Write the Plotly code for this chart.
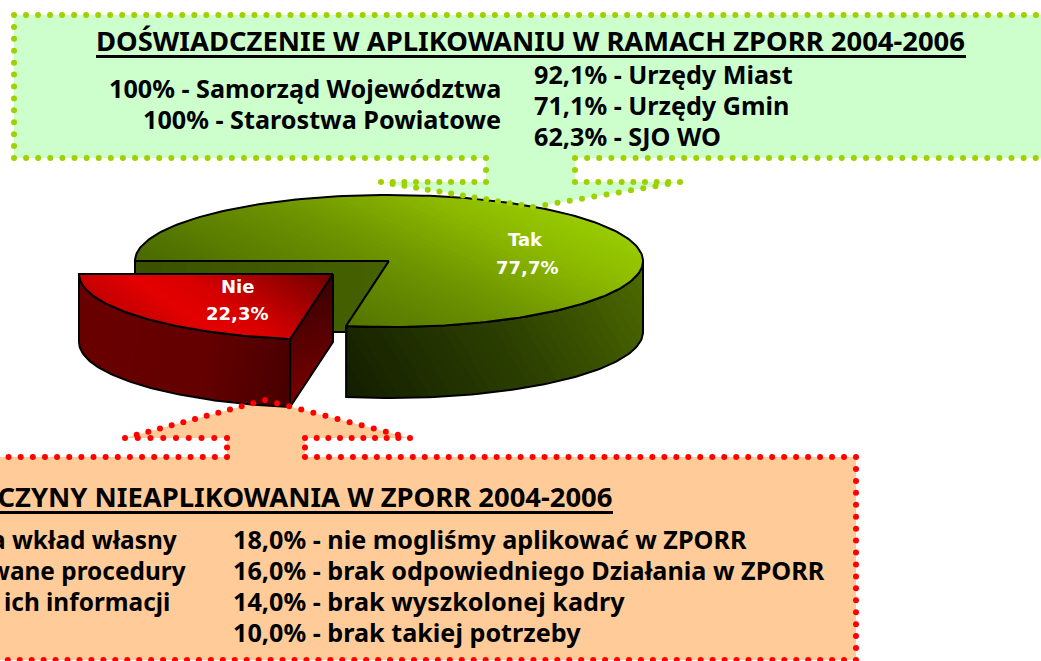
import math
import plotly.graph_objects as go

# ---- data ----
slice_labels = ["Tak", "Nie"]
slice_values = [77.7, 22.3]
slice_texts = ["77,7%", "22,3%"]

title_top = "DOŚWIADCZENIE W APLIKOWANIU W RAMACH ZPORR 2004-2006"
top_left_lines = ["100% - Samorząd Województwa", "100% - Starostwa Powiatowe"]
top_right_lines = ["92,1% - Urzędy Miast", "71,1% - Urzędy Gmin", "62,3% - SJO WO"]

title_bottom = "PRZYCZYNY NIEAPLIKOWANIA W ZPORR 2004-2006"
bottom_left_lines = ["a wkład własny", "wane procedury", "ich informacji"]
bottom_right_lines = [
    "18,0% - nie mogliśmy aplikować w ZPORR",
    "16,0% - brak odpowiedniego Działania w ZPORR",
    "14,0% - brak wyszkolonej kadry",
    "10,0% - brak takiej potrzeby",
]

# ---- geometry / style ----
W, H = 1041, 661
CX, CY, RX, RY, DEPTH = 389, 261, 254, 66, 71
EXPLODE = (-56, 13)
FONT = "Noto Sans"
GREEN_DOT, GREEN_FILL = "#A0D000", "#CCFFCC"
RED_DOT, PEACH_FILL = "#FF0000", "#FFCC99"

callout_top = [(14, 15), (1060, 15), (1060, 158), (575, 158), (575, 182), (680, 182),
               (533, 207), (381, 182), (486, 182), (486, 158), (14, 158), (14, 15)]
callout_bottom = [(-40, 457), (227, 457), (227, 438), (125, 438), (265, 400), (410, 438),
                  (305, 438), (305, 457), (856, 457), (856, 660), (-40, 660), (-40, 457)]

fig = go.Figure()


def hexrgb(c):
    return [int(c[i:i + 2], 16) for i in (1, 3, 5)]


def mix(stops, u):
    u = max(0, min(1, u))
    for (a, ca), (b, cb) in zip(stops, stops[1:]):
        if u <= b:
            f = (u - a) / (b - a) if b > a else 0
            ra, rb = hexrgb(ca), hexrgb(cb)
            return "rgb(%d,%d,%d)" % tuple(ra[i] + (rb[i] - ra[i]) * f for i in range(3))
    return stops[-1][1]


def clip(poly, d, t0):
    out = []
    for p, q in zip(poly, poly[1:] + poly[:1]):
        sp = p[0] * d[0] + p[1] * d[1] - t0
        sq = q[0] * d[0] + q[1] * d[1] - t0
        if sp >= 0:
            out.append(p)
        if sp * sq < 0:
            f = sp / (sp - sq)
            out.append((p[0] + (q[0] - p[0]) * f, p[1] + (q[1] - p[1]) * f))
    return out


def add_poly(poly, **kw):
    xs = [p[0] for p in poly] + [poly[0][0]]
    ys = [p[1] for p in poly] + [poly[0][1]]
    fig.add_trace(go.Scatter(x=xs, y=ys, mode="lines", hoverinfo="skip", showlegend=False, **kw))


def gradient(poly, d, stops, n=36):
    n_len = math.hypot(*d)
    d = (d[0] / n_len, d[1] / n_len)
    ts = [p[0] * d[0] + p[1] * d[1] for p in poly]
    lo, hi = min(ts), max(ts)
    for i in range(n):
        t0 = lo + (hi - lo) * i / n
        part = clip(poly, d, t0)
        if len(part) >= 3:
            add_poly(part, fill="toself", fillcolor=mix(stops, (i + 0.5) / n), line=dict(width=0))
    add_poly(poly, line=dict(color="black", width=2))


def arc(t0, t1, dx=0, dy=0, n=80):
    pts = []
    for i in range(n + 1):
        t = math.radians(t0 + (t1 - t0) * i / n)
        pts.append((CX + dx + RX * math.cos(t), CY + dy - RY * math.sin(t)))
    return pts


def dotted(path, color):
    xs, ys = [], []
    for p, q in zip(path, path[1:]):
        L = math.hypot(q[0] - p[0], q[1] - p[1])
        k = max(1, round(L / 12))
        for i in range(k):
            xs.append(p[0] + (q[0] - p[0]) * i / k)
            ys.append(p[1] + (q[1] - p[1]) * i / k)
    fig.add_trace(go.Scatter(x=xs, y=ys, mode="markers", hoverinfo="skip", showlegend=False,
                             marker=dict(color=color, size=6, line=dict(width=0))))


# callout fills
add_poly(callout_top[:-1], fill="toself", fillcolor=GREEN_FILL, line=dict(width=0))
add_poly(callout_bottom[:-1], fill="toself", fillcolor=PEACH_FILL, line=dict(width=0))

# pie: angles come from the values
total = sum(slice_values)
start = 180.0
split = start - 360.0 * slice_values[0] / total

edge = arc(split, split, n=1)[0]
# inner cut wall
gradient([(CX - RX, CY), (CX, CY), edge, (edge[0], CY + DEPTH), (CX - RX, CY + DEPTH)],
         (1, 0), [(0, "#3A5200"), (1, "#466200")], n=10)
# outer wall Tak
top_arc = arc(0, split)
gradient(top_arc + [(x, y + DEPTH) for x, y in reversed(top_arc)],
         (1, -0.6), [(0, "#141E00"), (0.55, "#2E4200"), (1, "#4F6C00")])
# top Tak
gradient([(CX, CY)] + arc(start, split, n=200),
         (0.42, -0.9), [(0, "#4A6800"), (0.5, "#6F9600"), (0.8, "#8DBB00"), (1, "#99CC00")], n=50)

dx, dy = EXPLODE
nie_arc = arc(split, -180, dx, dy)
nie_c = (CX + dx, CY + dy)
# outer wall Nie
gradient(nie_arc + [(x, y + DEPTH - 3) for x, y in reversed(nie_arc)],
         (1, 0.2), [(0, "#6A0000"), (0.6, "#640000"), (1, "#480000")])
# side wall Nie
e = nie_arc[0]
gradient([nie_c, e, (e[0], e[1] + DEPTH - 3), (nie_c[0], nie_c[1] + DEPTH - 3)],
         (0.3, 1), [(0, "#3A0000"), (1, "#7A0000")], n=20)
# top Nie
gradient([nie_c] + nie_arc,
         (-0.55, 0.83), [(0, "#700000"), (0.55, "#D80000"), (0.75, "#E40000"), (1, "#C40000")], n=40)

# callout dotted borders, above the pie
dotted(callout_top, GREEN_DOT)
dotted(callout_bottom, RED_DOT)


def text(x, y, s, size, color="black", anchor="left", family=FONT):
    fig.add_annotation(x=x, y=y, text="<b>%s</b>" % s, showarrow=False,
                       xanchor=anchor, yanchor="middle", borderpad=0,
                       font=dict(family=family, size=size, color=color))


# pie labels
tak_x, nie_x = 527, 237
LBL = "DejaVu Sans"
text(tak_x - 2, 239, slice_labels[0], 18, "white", "center", LBL)
text(tak_x, 267, slice_texts[0], 18, "white", "center", LBL)
text(nie_x, 286, slice_labels[1], 18, "white", "center", LBL)
text(nie_x, 313, slice_texts[1], 18, "white", "center", LBL)

# top callout text
text(966, 40, title_top, 27.4, anchor="right")
fig.add_shape(type="line", x0=96, x1=966, y0=56.5, y1=56.5, line=dict(color="black", width=3))
for y, s in zip([88, 119], top_left_lines):
    text(502, y, s, 25.2, anchor="right")
for y, s in zip([74, 105, 136], top_right_lines):
    text(533, y, s, 25.2)

# bottom callout text
text(613, 496, title_bottom, 27.4, anchor="right")
fig.add_shape(type="line", x0=0, x1=613, y0=512.5, y1=512.5, line=dict(color="black", width=3))
for y, s, xr in zip([539, 570, 601], bottom_left_lines, [178, 187, 171]):
    text(xr, y, s, 24.4, anchor="right")
for y, s in zip([539, 570, 601, 632], bottom_right_lines):
    text(232, y, s, 25.2)

fig.update_layout(
    width=W, height=H, margin=dict(l=0, r=0, t=0, b=0),
    paper_bgcolor="white", plot_bgcolor="white", showlegend=False,
    xaxis=dict(range=[0, W], visible=False, fixedrange=True),
    yaxis=dict(range=[H, 0], visible=False, fixedrange=True),
)
fig.write_html("out.html", config=dict(displayModeBar=False),
               post_script="document.body.style.margin='0';document.body.style.overflow='hidden';")
